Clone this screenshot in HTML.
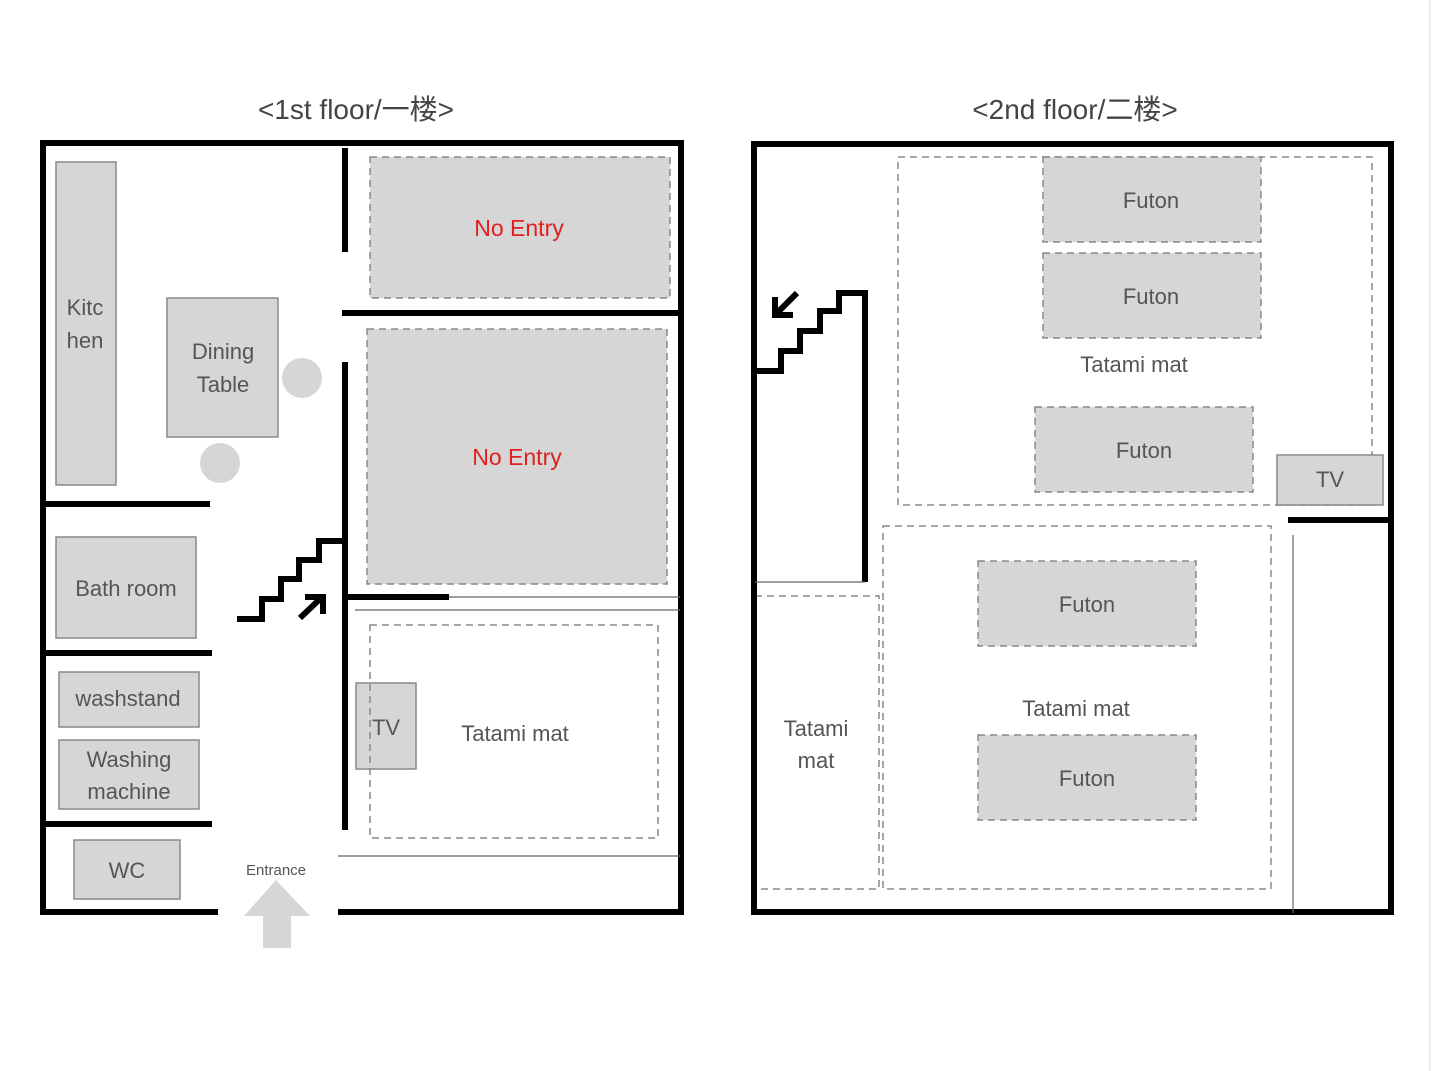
<!DOCTYPE html>
<html><head><meta charset="utf-8"><style>
html,body{margin:0;padding:0;background:#fff;}
svg{display:block;font-family:"Liberation Sans","Noto Sans CJK SC",sans-serif;}
</style></head><body>
<svg width="1440" height="1071" viewBox="0 0 1440 1071" xmlns="http://www.w3.org/2000/svg">
<rect width="1440" height="1071" fill="#fff"/>
<line x1="1430" y1="0" x2="1430" y2="1071" stroke="#ececec" stroke-width="2"/>
<g fill="#444" font-size="28" text-anchor="middle">
<text x="356" y="119">&lt;1st floor/一楼&gt;</text>
<text x="1075" y="119">&lt;2nd floor/二楼&gt;</text>
</g>

<!-- FLOOR 1 -->
<g fill="#d6d6d6" stroke="#888" stroke-width="1.5">
<rect x="56" y="162" width="60" height="323"/>
<rect x="167" y="298" width="111" height="139"/>
<rect x="56" y="537" width="140" height="101"/>
<rect x="59" y="672" width="140" height="55"/>
<rect x="59" y="740" width="140" height="69"/>
<rect x="74" y="840" width="106" height="59"/>
<rect x="356" y="683" width="60" height="86"/>
</g>
<circle cx="302" cy="378" r="20" fill="#d6d6d6"/>
<circle cx="220" cy="463" r="20" fill="#d6d6d6"/>
<g fill="#d6d6d6" stroke="#888" stroke-width="1.5" stroke-dasharray="7,5">
<rect x="370" y="157" width="300" height="141"/>
<rect x="367" y="329" width="300" height="255"/>
</g>
<rect x="370" y="625" width="288" height="213" fill="none" stroke="#888" stroke-width="1.5" stroke-dasharray="7,5"/>
<g stroke="#000" stroke-width="6" fill="none">
<polyline points="218,912 43,912 43,143 681,143 681,912 338,912"/>
<line x1="345" y1="148" x2="345" y2="252"/>
<line x1="342" y1="313" x2="684" y2="313"/>
<line x1="345" y1="362" x2="345" y2="830"/>
<line x1="44" y1="504" x2="210" y2="504"/>
<line x1="44" y1="653" x2="212" y2="653"/>
<line x1="44" y1="824" x2="212" y2="824"/>
<line x1="348" y1="597" x2="449" y2="597"/>
<polyline points="237,619 262,619 262,599 281,599 281,579 299,579 299,560 319,560 319,541 345,541"/>
<line x1="300" y1="618" x2="322" y2="597" stroke-width="6"/>
<polyline points="305,597 323,597 323,614" stroke-width="6"/>
</g>
<g stroke="#666" stroke-width="1.2">
<line x1="449" y1="597" x2="680" y2="597"/>
<line x1="355" y1="610" x2="680" y2="610"/>
<line x1="338" y1="856" x2="680" y2="856"/>
</g>
<polygon points="244,916 276,880 310,916" fill="#d6d6d6"/>
<rect x="263" y="915" width="28" height="33" fill="#d6d6d6"/>
<g fill="#555" font-size="22" text-anchor="middle">
<text x="85" y="315">Kitc</text><text x="85" y="348">hen</text>
<text x="223" y="359">Dining</text><text x="223" y="392">Table</text>
<text x="126" y="596">Bath room</text>
<text x="128" y="706">washstand</text>
<text x="129" y="767">Washing</text><text x="129" y="799">machine</text>
<text x="127" y="878">WC</text>
<text x="386" y="735">TV</text>
<text x="515" y="741">Tatami mat</text>
<text x="276" y="875" font-size="15">Entrance</text>
</g>
<g fill="#e02020" font-size="23" text-anchor="middle">
<text x="519" y="236">No Entry</text>
<text x="517" y="465">No Entry</text>
</g>

<!-- FLOOR 2 -->
<g fill="none" stroke="#888" stroke-width="1.5" stroke-dasharray="7,5">
<rect x="898" y="157" width="474" height="348"/>
<rect x="883" y="526" width="388" height="363"/>
<rect x="755" y="596" width="124" height="293"/>
</g>
<g fill="#d6d6d6" stroke="#888" stroke-width="1.5" stroke-dasharray="7,5">
<rect x="1043" y="157" width="218" height="85"/>
<rect x="1043" y="253" width="218" height="85"/>
<rect x="1035" y="407" width="218" height="85"/>
<rect x="978" y="561" width="218" height="85"/>
<rect x="978" y="735" width="218" height="85"/>
</g>
<rect x="1277" y="455" width="106" height="50" fill="#d6d6d6" stroke="#888" stroke-width="1.5"/>
<g stroke="#000" stroke-width="6" fill="none">
<rect x="754" y="144" width="637" height="768"/>
<polyline points="757,371 781,371 781,351 800,351 800,331 820,331 820,311 839,311 839,293 865,293 865,582"/>
<line x1="1288" y1="520" x2="1390" y2="520"/>
<line x1="797" y1="293" x2="776" y2="314" stroke-width="6"/>
<polyline points="775,297 775,315 793,315" stroke-width="6"/>
</g>
<g stroke="#666" stroke-width="1.2">
<line x1="755" y1="582" x2="865" y2="582"/>
<line x1="1293" y1="535" x2="1293" y2="913"/>
</g>
<g fill="#555" font-size="22" text-anchor="middle">
<text x="1151" y="208">Futon</text>
<text x="1151" y="304">Futon</text>
<text x="1134" y="372">Tatami mat</text>
<text x="1144" y="458">Futon</text>
<text x="1330" y="487">TV</text>
<text x="1087" y="612">Futon</text>
<text x="1076" y="716">Tatami mat</text>
<text x="1087" y="786">Futon</text>
<text x="816" y="736">Tatami</text><text x="816" y="768">mat</text>
</g>
</svg>
</body></html>
